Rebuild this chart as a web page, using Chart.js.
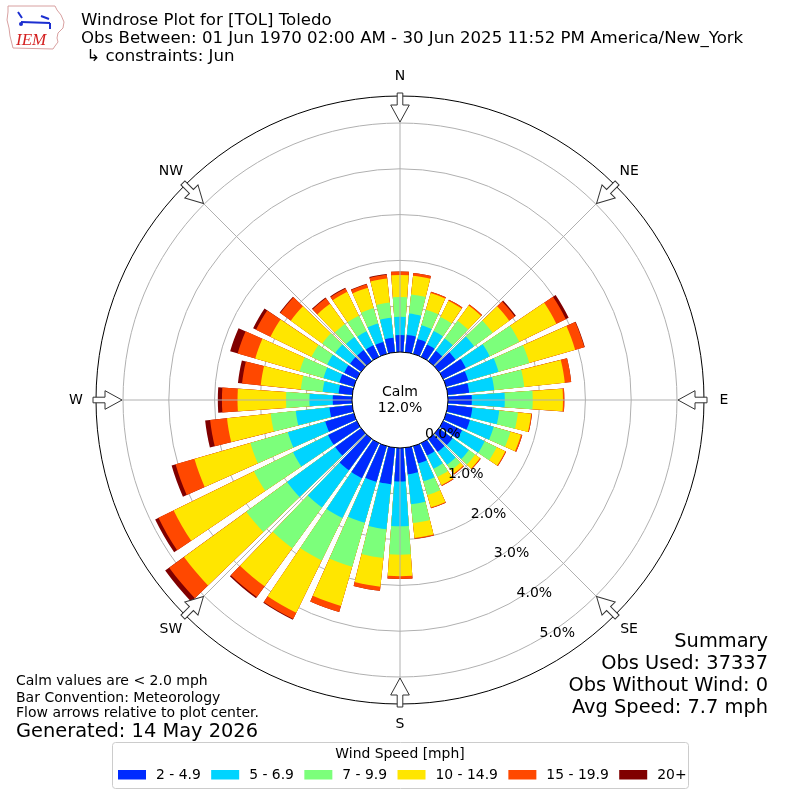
<!DOCTYPE html>
<html>
<head>
<meta charset="utf-8">
<script src="https://cdn.jsdelivr.net/npm/chart.js@4.4.1/dist/chart.umd.min.js"></script>
<style>
  html, body { margin: 0; padding: 0; background: #fff; }
  #wrap { width: 800px; height: 800px; }
</style>
</head>
<body>
<div id="wrap"><canvas id="rose"></canvas></div>
<script>
// wind direction bins (deg, meteorological) and frequency (%) per speed class
const directions = [0, 10, 20, 30, 40, 50, 60, 70, 80, 90, 100, 110, 120, 130, 140, 150, 160, 170,
                    180, 190, 200, 210, 220, 230, 240, 250, 260, 270, 280, 290, 300, 310, 320, 330, 340, 350];
const speedLabels = ['2 - 4.9', '5 - 6.9', '7 - 9.9', '10 - 14.9', '15 - 19.9', '20+'];
const speed2to5 = [0.37, 0.38, 0.34, 0.30, 0.28, 0.45, 0.55, 0.50, 0.47, 0.52, 0.54, 0.54, 0.46, 0.37, 0.35, 0.30, 0.39, 0.58,
                   0.73, 0.80, 0.81, 0.85, 0.85, 0.70, 0.70, 0.65, 0.50, 0.42, 0.30, 0.33, 0.31, 0.30, 0.30, 0.28, 0.27, 0.32];
const speed5to7 = [0.40, 0.47, 0.31, 0.33, 0.33, 0.50, 0.58, 0.69, 0.55, 0.72, 0.59, 0.54, 0.55, 0.44, 0.35, 0.32, 0.41, 0.66,
                   0.98, 0.99, 0.93, 0.97, 1.00, 1.30, 0.85, 0.85, 0.74, 0.51, 0.35, 0.36, 0.41, 0.40, 0.35, 0.34, 0.42, 0.44];
const speed7to10 = [0.43, 0.42, 0.35, 0.34, 0.48, 0.50, 0.72, 0.70, 0.66, 0.61, 0.41, 0.38, 0.29, 0.17, 0.15, 0.20, 0.31, 0.41,
                    0.62, 0.63, 1.00, 1.03, 1.10, 1.10, 0.95, 0.85, 0.55, 0.51, 0.48, 0.54, 0.38, 0.35, 0.35, 0.38, 0.35, 0.33];
const speed10to15 = [0.48, 0.41, 0.38, 0.39, 0.41, 0.45, 0.90, 1.04, 0.89, 0.66, 0.29, 0.24, 0.21, 0.13, 0.09, 0.20, 0.28, 0.33,
                     0.47, 0.63, 0.89, 1.27, 1.03, 1.68, 1.95, 1.27, 0.96, 1.06, 0.88, 1.01, 1.00, 0.85, 0.55, 0.58, 0.46, 0.53];
const speed15to20 = [0.08, 0.06, 0.03, 0.03, 0.03, 0.15, 0.23, 0.21, 0.14, 0.03, 0.02, 0.03, 0.02, 0.02, 0.02, 0.02, 0.02, 0.02,
                     0.06, 0.09, 0.14, 0.15, 0.29, 0.40, 0.37, 0.43, 0.37, 0.34, 0.41, 0.40, 0.35, 0.28, 0.15, 0.08, 0.08, 0.08];
const speed20up = [0, 0, 0, 0, 0, 0.03, 0.07, 0.01, 0, 0, 0, 0, 0, 0, 0, 0, 0, 0,
                   0, 0, 0, 0.02, 0.03, 0.11, 0.08, 0.09, 0.11, 0.09, 0.09, 0.17, 0.07, 0.02, 0.02, 0.02, 0.01, 0.02];
const ringTicks = [0, 1, 2, 3, 4, 5];
const compassNames = ['N', 'NE', 'E', 'SE', 'S', 'SW', 'W', 'NW'];
const compassBearings = [0, 45, 90, 135, 180, 225, 270, 315];
const calmPercent = 12.0;
const summaryLines = ['Summary', 'Obs Used: 37337', 'Obs Without Wind: 0', 'Avg Speed: 7.7 mph'];

const binColors = ['#002bff', '#00d4ff', '#7cff7b', '#ffe600', '#ff4800', '#800000'];
const gridColor = '#b0b0b0';
const FONT = "'DejaVu Sans', sans-serif";
const barAngle = 8, gapAngle = 2;
const deg = Math.PI / 180;

// stack the classes: each dataset holds the running total, smallest one drawn on top
const bins = [speed2to5, speed5to7, speed7to10, speed10to15, speed15to20, speed20up];
let running = directions.map(() => 0);
const labels = [];
directions.forEach(d => { labels.push(d + '°', ''); });
const datasets = bins.map((vals, k) => {
    running = running.map((v, i) => v + vals[i]);
    const data = [];
    running.forEach(v => { data.push(v, 0); });
    return {
        label: speedLabels[k],
        data: data,
        backgroundColor: c => (c.dataIndex % 2 ? 'rgba(0,0,0,0)' : binColors[k]),
        borderWidth: 0,
        angle: c => (c.dataIndex % 2 ? gapAngle : barAngle)
    };
});

function at(s, bearing, radius) {
    return [s.xCenter + radius * Math.sin(bearing * deg), s.yCenter - radius * Math.cos(bearing * deg)];
}

const rosePlugin = {
    id: 'rose',
    afterDatasetsDraw(chart) {
        const s = chart.scales.r, c = chart.ctx;
        c.save();
        c.strokeStyle = gridColor;
        c.lineWidth = 1;
        compassBearings.forEach(b => {
            const p = at(s, b, s.drawingArea);
            c.beginPath();
            c.moveTo(s.xCenter, s.yCenter);
            c.lineTo(p[0], p[1]);
            c.stroke();
        });
        c.restore();
    },
    afterDraw(chart) {
        const s = chart.scales.r, c = chart.ctx;
        const r0 = s.getDistanceFromCenterForValue(0);
        c.save();

        // calm circle
        c.beginPath();
        c.arc(s.xCenter, s.yCenter, r0, 0, Math.PI * 2);
        c.fillStyle = '#fff';
        c.fill();
        c.strokeStyle = '#000';
        c.lineWidth = 1;
        c.stroke();
        c.fillStyle = '#000';
        c.font = '14px ' + FONT;
        c.textAlign = 'center';
        c.textBaseline = 'middle';
        c.fillText('Calm', s.xCenter, s.yCenter - 8);
        c.fillText(calmPercent.toFixed(1) + '%', s.xCenter, s.yCenter + 8);

        // outer frame
        c.beginPath();
        c.arc(s.xCenter, s.yCenter, s.drawingArea, 0, Math.PI * 2);
        c.stroke();

        // flow arrows + compass labels
        compassBearings.forEach((b, i) => {
            c.save();
            c.translate(s.xCenter, s.yCenter);
            c.rotate(b * deg);
            const tail = s.drawingArea + 3, base = s.drawingArea - 9, tip = s.drawingArea - 26;
            c.beginPath();
            c.moveTo(-2.8, -tail);
            c.lineTo(2.8, -tail);
            c.lineTo(2.8, -base);
            c.lineTo(9.3, -base);
            c.lineTo(0, -tip);
            c.lineTo(-9.3, -base);
            c.lineTo(-2.8, -base);
            c.closePath();
            c.fillStyle = '#fff';
            c.fill();
            c.strokeStyle = '#333';
            c.stroke();
            c.restore();
            const p = at(s, b, s.drawingArea + 20);
            c.fillStyle = '#000';
            c.fillText(compassNames[i], p[0], p[1]);
        });

        // ring labels
        c.textAlign = 'left';
        c.textBaseline = 'bottom';
        ringTicks.forEach(v => {
            const p = at(s, 150, s.getDistanceFromCenterForValue(v));
            c.fillText(v.toFixed(1) + '%', p[0] + 1, p[1]);
        });

        // header
        c.textBaseline = 'alphabetic';
        c.font = '16.6px ' + FONT;
        c.fillText('Windrose Plot for [TOL] Toledo', 81, 25);
        c.fillText('Obs Between: 01 Jun 1970 02:00 AM - 30 Jun 2025 11:52 PM America/New_York', 81, 43);
        c.fillText(' \u21b3 constraints: Jun', 81, 61);

        // notes
        c.font = '14px ' + FONT;
        c.fillText('Calm values are < 2.0 mph', 16, 685);
        c.fillText('Bar Convention: Meteorology', 16, 702);
        c.fillText('Flow arrows relative to plot center.', 16, 717);
        c.font = '19.4px ' + FONT;
        c.fillText('Generated: 14 May 2026', 16, 737);

        // summary
        c.textAlign = 'right';
        summaryLines.forEach((t, i) => c.fillText(t, 768, 647 + i * 22));

        // legend
        c.beginPath();
        c.roundRect(112.5, 742.5, 576, 46, 3);
        c.fillStyle = '#fff';
        c.fill();
        c.strokeStyle = '#cccccc';
        c.stroke();
        c.fillStyle = '#000';
        c.font = '13.9px ' + FONT;
        c.textAlign = 'center';
        c.fillText('Wind Speed [mph]', 400, 758);
        c.textAlign = 'left';
        let x = 118;
        speedLabels.forEach((t, k) => {
            c.fillStyle = binColors[k];
            c.fillRect(x, 770, 28, 9.5);
            c.fillStyle = '#000';
            c.fillText(t, x + 38, 779);
            x += 38 + c.measureText(t).width + 10.4;
        });

        // IEM logo
        c.beginPath();
        const outline = [[8, 6], [55, 6], [57, 10], [61, 15], [64, 22], [63, 28], [58, 33], [57, 38], [58, 42],
                         [55, 46], [53, 49], [13, 48], [12, 44], [10, 36], [9, 28], [7, 20], [8, 12]];
        outline.forEach((p, i) => (i ? c.lineTo(p[0], p[1]) : c.moveTo(p[0], p[1])));
        c.closePath();
        c.strokeStyle = '#d8a0a0';
        c.lineWidth = 1;
        c.stroke();
        c.strokeStyle = '#1c2fd0';
        c.lineWidth = 2;
        c.beginPath();
        c.moveTo(21, 22); c.lineTo(50, 23);
        c.moveTo(18, 12); c.lineTo(22, 18);
        c.moveTo(41, 16); c.lineTo(49, 19);
        c.moveTo(50, 23); c.lineTo(50, 29);
        c.stroke();
        c.fillStyle = '#1c2fd0';
        c.beginPath(); c.arc(21, 24, 2, 0, Math.PI * 2); c.fill();
        c.fillStyle = '#d42020';
        c.font = 'italic 17px "Liberation Serif", serif';
        c.fillText('IEM', 16, 45);
        c.restore();
    }
};

new Chart(document.getElementById('rose'), {
    type: 'polarArea',
    data: { labels: labels, datasets: datasets },
    options: {
        responsive: true,
        maintainAspectRatio: false,
        animation: false,
        layout: { padding: 96 },
        plugins: {
            legend: { display: false },
            tooltip: { enabled: false }
        },
        scales: {
            r: {
                min: -48 / 45.8,
                max: 256 / 45.8,
                startAngle: -barAngle / 2,
                z: 1,
                afterBuildTicks: scale => { scale.ticks = ringTicks.map(v => ({ value: v })); },
                ticks: { display: false },
                grid: { color: gridColor, lineWidth: 1 },
                angleLines: { display: false },
                pointLabels: { display: false }
            }
        }
    },
    plugins: [rosePlugin]
});
</script>
</body>
</html>
